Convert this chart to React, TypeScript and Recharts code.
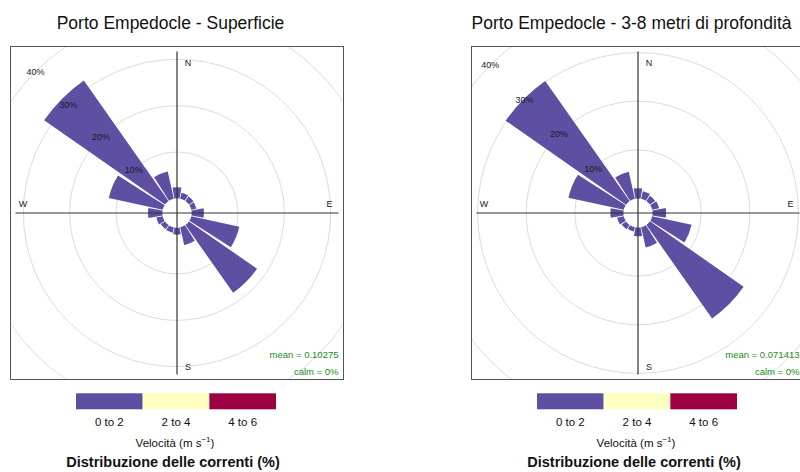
import React from "react";
import {
  RadialBarChart,
  RadialBar,
  PolarGrid,
  PolarAngleAxis,
  PolarRadiusAxis,
} from "recharts";

// 16 compass sectors, clockwise from north
const directions = ["N", "NNE", "NE", "ENE", "E", "ESE", "SE", "SSE", "S", "SSW", "SW", "WSW", "W", "WNW", "NW", "NNW"];
// frequency (%) per sector, all in the 0-2 m/s class
const surfaceFreq = [2.4, 1.3, 1.2, 1.1, 2.65, 10.6, 17.9, 3.95, 1.5, 1.2, 1.1, 1.4, 3.1, 11.9, 31.8, 6.0];
const deepFreq = [2.1, 1.6, 1.3, 1.45, 2.8, 8.3, 23.5, 4.25, 1.8, 0.9, 1.1, 1.4, 2.7, 11.65, 30.2, 5.7];
const ringTicks = [10, 20, 30, 40];
const speedLabels = ["0 to 2", "2 to 4", "4 to 6"];
const speedColors = ["#5E4FA2", "#FFFFBF", "#9E0142"];
const compassLabels = ["N", "E", "S", "W"];

const FONT = "'Liberation Sans', Arial, Helvetica, sans-serif";
const SIZE = 332;
const C = SIZE / 2;
const BOX_TOP = 46;

// label offsets from the centre (text baseline)
const compassOffset: Record<string, [number, number]> = {
  N: [11, -147.5],
  E: [152.5, -6.5],
  S: [11, 157],
  W: [-154, -6.5],
};

const renderRingTick = (props: any) => (
  <text
    x={props.x}
    y={props.y}
    dy={3.2}
    textAnchor="middle"
    fontSize={9}
    fontFamily={FONT}
    fill="#1a1a1a"
  >
    {`${props.payload.value}%`}
  </text>
);

interface PanelProps {
  left: number;
  values: number[];
  holeValue: number;
  outerRadius: number;
  mean: string;
}

function RosePanel({ left, values, holeValue, outerRadius, mean }: PanelProps) {
  const data = directions.map((dir, i) => ({ dir, freq: values[i] }));
  return (
    <div
      style={{
        position: "absolute",
        left,
        top: BOX_TOP,
        width: SIZE,
        height: SIZE,
        border: "1px solid #555",
        overflow: "hidden",
        background: "#fff",
      }}
    >
      {/* bands run clockwise; each bar is drawn from the band start, so shift by half a sector */}
      <RadialBarChart
        width={SIZE}
        height={SIZE}
        data={data}
        layout="centric"
        cx={C}
        cy={C}
        innerRadius={0}
        outerRadius={outerRadius}
        startAngle={78.75}
        endAngle={-281.25}
        barCategoryGap="6%"
        margin={{ top: 0, right: 0, bottom: 0, left: 0 }}
      >
        <PolarGrid gridType="circle" radialLines={false} stroke="#dcdcdc" />
        <PolarAngleAxis type="category" dataKey="dir" tick={false} axisLine={false} tickLine={false} />
        <RadialBar dataKey="freq" fill={speedColors[0]} isAnimationActive={false} />
        <PolarRadiusAxis
          type="number"
          domain={[holeValue, 40]}
          ticks={ringTicks}
          angle={135}
          axisLine={false}
          tick={renderRingTick}
        />
      </RadialBarChart>
      <svg
        width={SIZE}
        height={SIZE}
        style={{ position: "absolute", left: 0, top: 0, pointerEvents: "none" }}
      >
        <line x1={C} y1={C - 161.5} x2={C} y2={C + 161.5} stroke="#333" strokeWidth={1.2} />
        <line x1={C - 161.5} y1={C} x2={C + 161.5} y2={C} stroke="#333" strokeWidth={1.2} />
        {compassLabels.map((d) => (
          <text
            key={d}
            x={C + compassOffset[d][0]}
            y={C + compassOffset[d][1]}
            textAnchor="middle"
            fontSize={9}
            fontFamily={FONT}
            fill="#1a1a1a"
          >
            {d}
          </text>
        ))}
        <text x={SIZE - 4.5} y={311} textAnchor="end" fontSize={9.5} fontFamily={FONT} fill="#228B22">
          {`mean = ${mean}`}
        </text>
        <text x={SIZE - 4.5} y={327.5} textAnchor="end" fontSize={9.5} fontFamily={FONT} fill="#228B22">
          calm = 0%
        </text>
      </svg>
    </div>
  );
}

function Legend({ cx, title }: { cx: number; title: string }) {
  const w = 200 / speedLabels.length;
  const x0 = cx - 101;
  return (
    <g fontFamily={FONT}>
      <text x={cx - 6.5} y={29} textAnchor="middle" fontSize={17.5} fill="#111">
        {title}
      </text>
      {speedLabels.map((lab, i) => (
        <g key={lab}>
          <rect x={x0 + i * w} y={393.3} width={w} height={16} fill={speedColors[i]} />
          <text x={x0 + (i + 0.5) * w} y={426} textAnchor="middle" fontSize={11.5} fill="#111">
            {lab}
          </text>
        </g>
      ))}
      <text x={cx - 2} y={446.5} textAnchor="middle" fontSize={11.5} fill="#111">
        Velocità (m s
        <tspan fontSize={8} dy={-4.5}>−1</tspan>
        <tspan dy={4.5}>)</tspan>
      </text>
      <text x={cx - 4} y={467} textAnchor="middle" fontSize={14.5} fontWeight="bold" fill="#111">
        Distribuzione delle correnti (%)
      </text>
    </g>
  );
}

export default function App() {
  return (
    <div
      style={{
        position: "absolute",
        left: 0,
        top: 0,
        width: 800,
        height: 472,
        overflow: "hidden",
        background: "#fff",
      }}
    >
      <RosePanel left={10} values={surfaceFreq} holeValue={-3.17} outerRadius={200} mean="0.10275" />
      <RosePanel left={471} values={deepFreq} holeValue={-2.94} outerRadius={209} mean="0.071413" />
      <svg width={800} height={472} style={{ position: "absolute", left: 0, top: 0, pointerEvents: "none" }}>
        <Legend cx={177} title="Porto Empedocle - Superficie" />
        <Legend cx={638} title="Porto Empedocle - 3-8 metri di profondità" />
      </svg>
    </div>
  );
}
